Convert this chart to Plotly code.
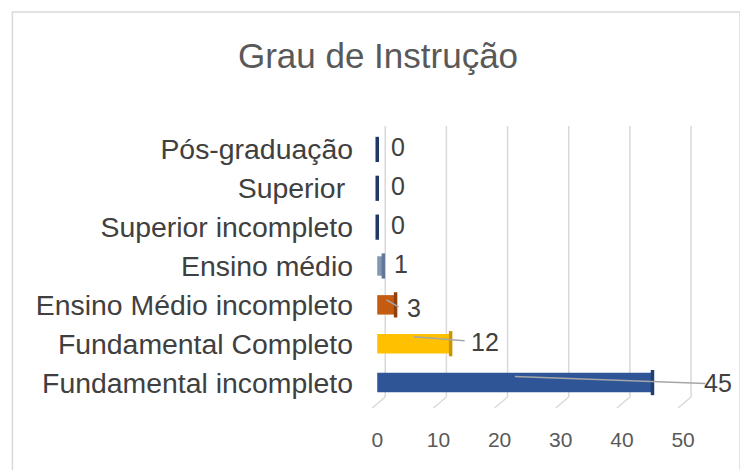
import plotly.graph_objects as go

# Data (bottom to top)
categories = ["Fundamental incompleto", "Fundamental Completo", "Ensino Médio incompleto",
              "Ensino médio", "Superior incompleto", "Superior\u00a0", "Pós-graduação"]
values = [45, 12, 3, 1, 0, 0, 0]
title_text = "Grau de Instrução"
x_ticks = [0, 10, 20, 30, 40, 50]

# Styles
bar_colors = ["#2F5597", "#FFC000", "#C55A11", "#8497B0", "#2F5597", "#2F5597", "#2F5597"]
face_colors = ["#223F72", "#C79600", "#8E400D", "#62779A", "#1F3864", "#1F3864", "#1F3864"]

W, H = 740, 462  # page body has an 8px margin
PX_PER_UNIT = 6.12
X_MIN, X_MAX = -2, 58
ZERO_PX = 369
L, T, B = ZERO_PX + X_MIN * PX_PER_UNIT, 122, 68
R = W - ZERO_PX - X_MAX * PX_PER_UNIT
PW, PH = W - L - R, H - T - B
PX_PER_CAT = PH / 7.0

fig = go.Figure()
fig.add_trace(go.Bar(
    x=values, y=categories, orientation="h",
    marker=dict(color=bar_colors, line=dict(width=0)),
    width=0.5, hoverinfo="x+y", showlegend=False,
))
# end faces (3D look)
fig.add_trace(go.Scatter(
    x=values, y=categories, mode="markers",
    marker=dict(symbol="line-ns", size=18, line=dict(width=3.5, color=face_colors)),
    cliponaxis=False, showlegend=False, hoverinfo="skip",
))

# label offsets (px): text x-shift from bar end, text y-shift, leader line start/end
label_style = {
    0: dict(tx=66, ty=0, y0=6, y1=-1, x1=53),
    1: dict(tx=34, ty=2, y0=7, y1=3, x1=14),
    2: dict(tx=18, ty=-3, y0=5, y1=-2, x1=3),
}
lab_font = dict(size=25, color="#404040", family="Liberation Sans, Arial")
annotations, shapes = [], []

# 3D-style gridlines: back-wall verticals shifted right, floor diagonals down to the tick
GRID_BACK = 8 / PX_PER_UNIT
GRID_FLOOR = -5 / PX_PER_UNIT
for t in x_ticks:
    shapes.append(dict(type="line", xref="x", yref="paper",
                       x0=t + GRID_BACK, x1=t + GRID_BACK, y0=5 / PH, y1=1 + 4 / PH,
                       line=dict(color="#D9D9D9", width=1.5), layer="below"))
    shapes.append(dict(type="line", xref="x", yref="paper",
                       x0=t + GRID_BACK, x1=t + GRID_FLOOR, y0=5 / PH, y1=-6 / PH,
                       line=dict(color="#D9D9D9", width=1.5), layer="below"))

for i, (c, v) in enumerate(zip(categories, values)):
    st = label_style.get(i)
    if st:
        annotations.append(dict(
            x=v, y=c, xref="x", yref="y", text=str(v), showarrow=False,
            xanchor="center", xshift=st["tx"], yshift=st["ty"], font=lab_font,
        ))
        shapes.append(dict(
            type="line", xref="x", yref="y",
            x0=v / 2, x1=v + st["x1"] / PX_PER_UNIT,
            y0=i + st["y0"] / PX_PER_CAT, y1=i + st["y1"] / PX_PER_CAT,
            line=dict(color="#A6A6A6", width=1.5), layer="above",
        ))
    else:
        annotations.append(dict(
            x=v, y=c, xref="x", yref="y", text=str(v), showarrow=False,
            xanchor="left", xshift=12 if v == 0 else 9, yshift=2, font=lab_font,
        ))

shapes.append(dict(type="rect", xref="paper", yref="paper",
                   x0=(4 - L) / PW, x1=(732 - L) / PW,
                   y0=-1.0, y1=1 + (T - 4) / PH,
                   line=dict(color="#D9D9D9", width=1.5), fillcolor="rgba(0,0,0,0)", layer="below"))

fig.update_layout(
    width=W, height=H,
    margin=dict(l=L, r=R, t=T, b=B),
    paper_bgcolor="white", plot_bgcolor="white",
    title=dict(text=title_text, x=370 / W, xanchor="center", y=1 - 48 / H, yanchor="middle",
               yref="container",
               font=dict(size=35, color="#595959", family="Liberation Sans, Arial")),
    xaxis=dict(range=[X_MIN, X_MAX], tickvals=x_ticks, showgrid=False, zeroline=False,
               showline=False, ticks="", ticklabelstandoff=23,
               tickfont=dict(size=21, color="#595959", family="Liberation Sans Narrow, Liberation Sans, Arial")),
    yaxis=dict(range=[-0.5, 6.5], showgrid=False, zeroline=False, showline=False, ticks="",
               ticklabelstandoff=int(round(23 - (ZERO_PX - L))),
               tickfont=dict(size=28.4, color="#404040", family="Liberation Sans, Arial")),
    annotations=annotations,
    shapes=shapes,
    bargap=0.5,
)

fig.write_html("out.html")
